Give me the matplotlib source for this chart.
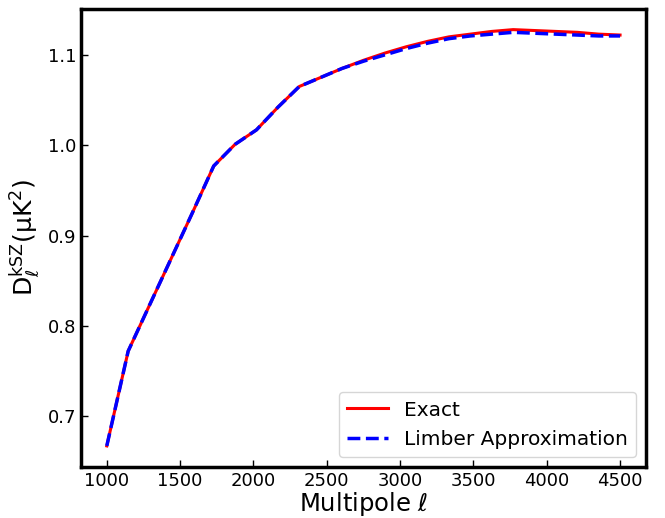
import matplotlib
matplotlib.use("Agg")
import matplotlib.pyplot as plt
import numpy as np

# multipoles (25 evenly spaced points between 1000 and 4500)
ell = np.linspace(1000, 4500, 25)

# kSZ power, exact calculation
d_exact = [0.667, 0.772, 0.823, 0.874, 0.925, 0.977, 1.001, 1.017, 1.042, 1.065,
           1.075, 1.085, 1.094, 1.102, 1.109, 1.115, 1.120, 1.123, 1.126, 1.128,
           1.127, 1.126, 1.125, 1.123, 1.122]

# kSZ power, Limber approximation
d_limber = [0.667, 0.772, 0.823, 0.874, 0.925, 0.977, 1.001, 1.017, 1.042, 1.065,
            1.075, 1.085, 1.093, 1.100, 1.107, 1.113, 1.118, 1.121, 1.123, 1.125,
            1.124, 1.123, 1.122, 1.121, 1.121]

fig = plt.figure(figsize=(6.65, 5.18), dpi=100)
ax = fig.add_axes([0.122, 0.099, 0.849, 0.884])

ax.plot(ell, d_exact, color="red", lw=2.2, label="Exact")
ax.plot(ell, d_limber, color="blue", lw=2.5, ls="--", label="Limber Approximation")

ax.set_xlabel(r"Multipole $\ell$", fontsize=17.5, labelpad=0)
ax.set_ylabel(r"$\mathrm{D}_{\ell}^{\mathrm{kSZ}}(\mathrm{\mu K}^2)$", fontsize=18)

ax.set_xticks([1000, 1500, 2000, 2500, 3000, 3500, 4000, 4500])
ax.set_yticks([0.7, 0.8, 0.9, 1.0, 1.1])
ax.tick_params(direction="in", labelsize=13, length=5, width=1)
for sp in ax.spines.values():
    sp.set_linewidth(2.5)

ax.legend(loc="lower right", fontsize=14.5)

fig.savefig("out.png", dpi=100)
